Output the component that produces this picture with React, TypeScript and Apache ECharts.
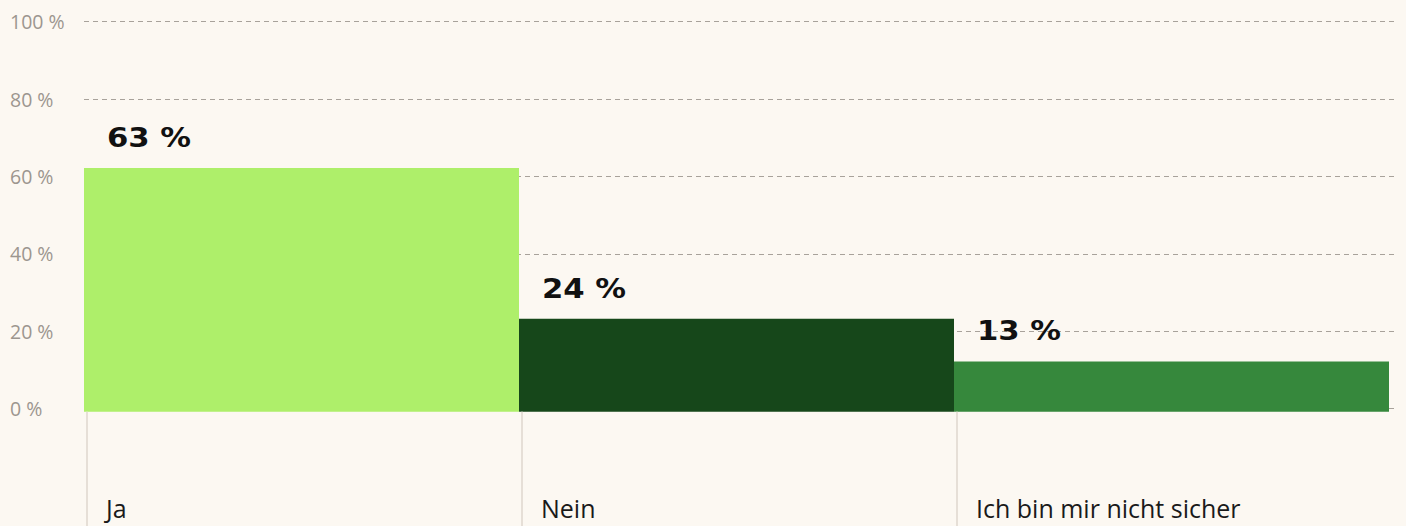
import React, { useEffect, useRef } from "react";
import * as echarts from "echarts";

const categories = ["Ja", "Nein", "Ich bin mir nicht sicher"];
const values = [63, 24, 13];
const valueLabels = ["63 %", "24 %", "13 %"];
const barColors = ["#aeef6a", "#16471a", "#36883c"];
const yMin = 0;
const yMax = 100;
const yInterval = 20;

export default function App() {
  const ref = useRef<HTMLDivElement>(null);

  useEffect(() => {
    if (!ref.current) return;
    const chart = echarts.init(ref.current, null, { renderer: "svg" });
    const SHIFT = 3;
    const option = {
      animation: false,
      backgroundColor: "#fcf8f2",
      grid: [
        { left: 84, right: 9, top: 21.7, bottom: 117.3 },
        { left: 84, right: 17, top: 21.7, bottom: 117.3 },
      ],
      xAxis: [
        { type: "category", gridIndex: 0, data: categories, show: false },
        { type: "category", gridIndex: 1, data: categories, show: false },
      ],
      yAxis: [
        {
          type: "value",
          gridIndex: 0,
          min: yMin,
          max: yMax,
          interval: yInterval,
          axisLine: { show: false },
          axisTick: { show: false },
          axisLabel: {
            formatter: (v: number) => `${v} %`,
            align: "left",
            margin: 74,
            color: "#9c968f",
            fontFamily: "Open Sans",
            fontSize: 19.5,
          },
          splitLine: {
            lineStyle: { color: "#a8a29b", type: [5, 4], width: 1 },
          },
        },
        {
          type: "value",
          gridIndex: 1,
          min: yMin,
          max: yMax,
          interval: yInterval,
          show: false,
          splitLine: { show: false },
        },
      ],
      series: [
        {
          type: "custom",
          xAxisIndex: 1,
          yAxisIndex: 1,
          data: values.map((v, i) => [i, v]),
          renderItem: (params: any, api: any) => {
            const idx = api.value(0);
            const val = api.value(1);
            const center = api.coord([idx, 0]);
            const top = api.coord([idx, val]);
            const band = api.size([1, 0])[0];
            const left = center[0] - band / 2;
            const base = center[1] + SHIFT;
            const topY = top[1] + SHIFT;
            return {
              type: "group",
              children: [
                {
                  type: "rect",
                  shape: { x: left, y: topY, width: band, height: base - topY },
                  style: { fill: barColors[idx] },
                },
                {
                  type: "line",
                  shape: { x1: left + 3, y1: base, x2: left + 3, y2: 526 },
                  style: { stroke: "#e6dfd7", lineWidth: 2 },
                },
                {
                  type: "text",
                  x: left + 23,
                  y: topY - 30,
                  scaleX: 1.18,
                  style: {
                    text: valueLabels[idx],
                    fill: "#111111",
                    font: "bold 26px 'DejaVu Sans'",
                    textAlign: "left",
                    textVerticalAlign: "middle",
                  },
                },
                {
                  type: "text",
                  x: left + 22,
                  y: 520,
                  style: {
                    text: categories[idx],
                    fill: "#1a1a1a",
                    font: "25px 'Open Sans'",
                    textAlign: "left",
                    textVerticalAlign: "bottom",
                  },
                },
              ],
            };
          },
        },
      ],
    };
    chart.setOption(option as any);
    return () => chart.dispose();
  }, []);

  return (
    <div
      ref={ref}
      style={{ position: "fixed", left: 0, top: 0, width: 1406, height: 526 }}
    />
  );
}
